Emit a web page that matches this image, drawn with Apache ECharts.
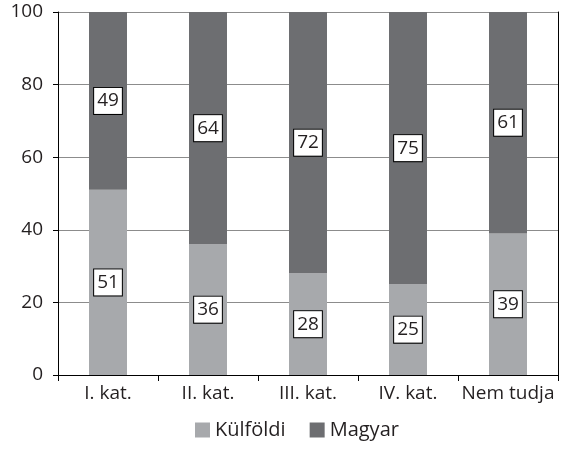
<!DOCTYPE html>
<html>
<head>
<meta charset="utf-8">
<script src="https://cdn.jsdelivr.net/npm/echarts@6/dist/echarts.min.js"></script>
<style>
  html, body { margin: 0; padding: 0; background: #fff; }
  #chart { width: 562px; height: 450px; }
</style>
</head>
<body>
<div id="chart"></div>
<script>
// Categories and the two stacked shares (percent)
const categories = ['I. kat.', 'II. kat.', 'III. kat.', 'IV. kat.', 'Nem tudja'];
const kulfoldi = [51, 36, 28, 25, 39];
const magyar = [49, 64, 72, 75, 61];
const yTicks = [0, 20, 40, 60, 80, 100];

const FONT = '"Open Sans", "Noto Sans", sans-serif';
const TEXT = '#231f20';

const boxLabel = {
  show: true,
  position: 'inside',
  color: TEXT,
  fontFamily: FONT,
  fontSize: 19,
  backgroundColor: '#fff',
  borderColor: '#000',
  borderWidth: 1,
  padding: [3, 3, 2, 3],
  lineHeight: 21
};

const chart = echarts.init(document.getElementById('chart'));
chart.setOption({
  animation: false,
  textStyle: { fontFamily: FONT, color: TEXT },
  grid: { left: 58, right: 4, top: 12, bottom: 75, containLabel: false },
  legend: {
    bottom: 5,
    left: 190,
    itemWidth: 15,
    itemHeight: 15,
    itemGap: 24,
    icon: 'rect',
    textStyle: { fontSize: 20, color: TEXT, fontFamily: FONT },
    data: ['Külföldi', 'Magyar']
  },
  xAxis: [{
    type: 'category',
    data: categories,
    axisLine: { lineStyle: { color: '#000', width: 1 } },
    axisTick: { show: true, length: 6, interval: 0, lineStyle: { color: '#000' } },
    axisLabel: { fontSize: 19, color: TEXT, margin: 9, interval: 0, fontFamily: FONT }
  }, {
    type: 'category',
    data: categories,
    position: 'top',
    axisLine: { lineStyle: { color: '#000', width: 1 } },
    axisTick: { show: false },
    axisLabel: { show: false }
  }],
  yAxis: [{
    type: 'value',
    min: yTicks[0],
    max: yTicks[yTicks.length - 1],
    interval: 20,
    axisLine: { show: true, lineStyle: { color: '#000' } },
    axisTick: { show: true, length: 5, lineStyle: { color: '#000' } },
    axisLabel: { fontSize: 19, color: TEXT, margin: 15, fontFamily: FONT },
    splitLine: { show: true, lineStyle: { color: '#8c8c8c', width: 1 } }
  }, {
    type: 'value',
    position: 'right',
    min: 0,
    max: 100,
    interval: 20,
    axisLine: { show: true, lineStyle: { color: '#000' } },
    axisTick: { show: false },
    axisLabel: { show: false },
    splitLine: { show: false }
  }],
  series: [{
    name: 'Külföldi',
    type: 'bar',
    stack: 'total',
    data: kulfoldi,
    barWidth: 38,
    itemStyle: { color: '#a7a9ac' },
    label: boxLabel
  }, {
    name: 'Magyar',
    type: 'bar',
    stack: 'total',
    data: magyar,
    barWidth: 38,
    itemStyle: { color: '#6d6e71' },
    label: boxLabel
  }]
});
</script>
</body>
</html>
